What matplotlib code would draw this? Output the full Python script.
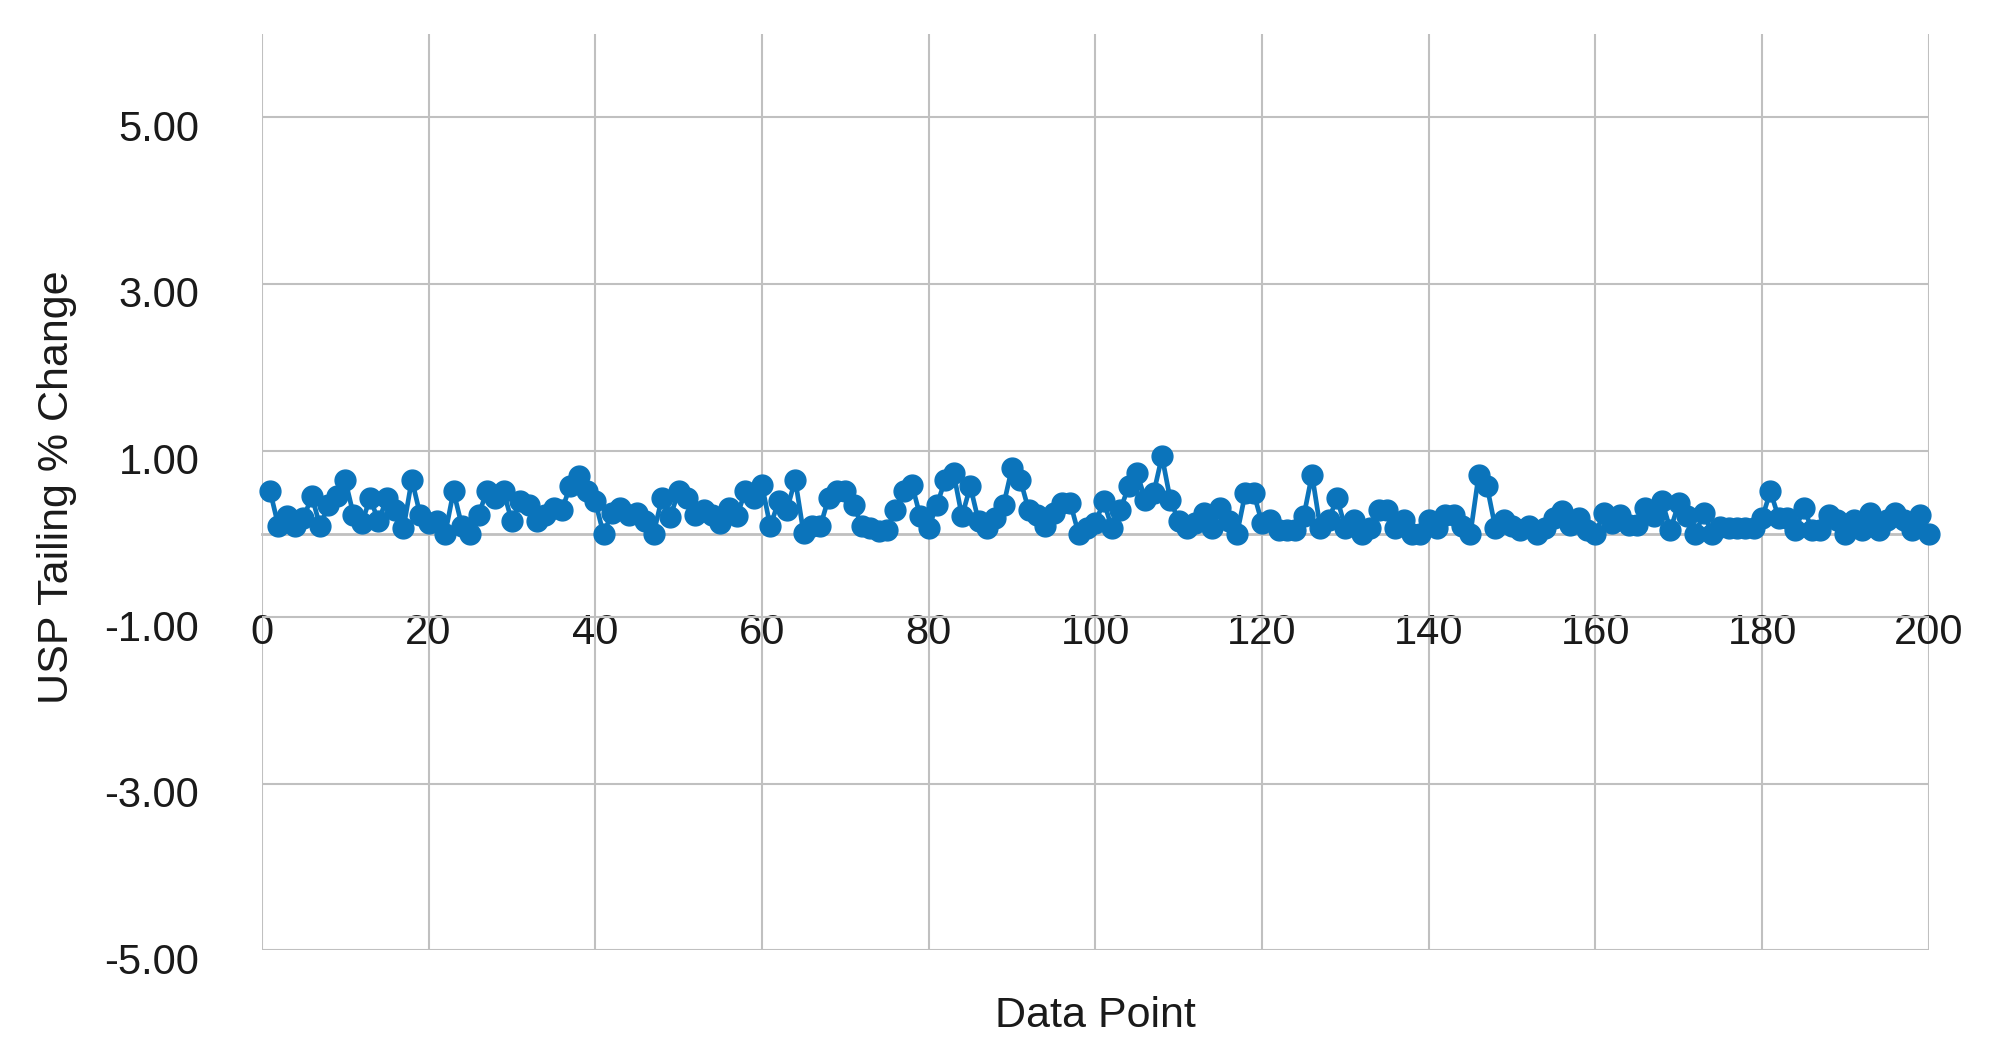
import matplotlib
matplotlib.use("Agg")
import matplotlib.pyplot as plt
import matplotlib.transforms as mtransforms
from matplotlib.ticker import FixedLocator, FormatStrFormatter

plt.rcParams['font.family'] = ['Liberation Sans', 'DejaVu Sans']

x_values = list(range(1, 201))
tailing_change = [
    0.51, 0.09, 0.21, 0.09, 0.19, 0.45, 0.09, 0.35, 0.45, 0.65,
    0.23, 0.13, 0.43, 0.15, 0.43, 0.29, 0.07, 0.65, 0.23, 0.13,
    0.15, 0.00, 0.51, 0.10, 0.00, 0.23, 0.51, 0.43, 0.51, 0.15,
    0.39, 0.35, 0.15, 0.23, 0.31, 0.29, 0.57, 0.69, 0.51, 0.39,
    0.00, 0.25, 0.31, 0.23, 0.25, 0.15, 0.00, 0.43, 0.20, 0.51,
    0.43, 0.23, 0.29, 0.23, 0.13, 0.31, 0.21, 0.51, 0.43, 0.59,
    0.09, 0.39, 0.29, 0.65, 0.01, 0.09, 0.09, 0.43, 0.51, 0.51,
    0.35, 0.09, 0.07, 0.03, 0.05, 0.29, 0.51, 0.59, 0.21, 0.07,
    0.35, 0.65, 0.73, 0.21, 0.57, 0.15, 0.07, 0.19, 0.35, 0.79,
    0.65, 0.29, 0.23, 0.09, 0.25, 0.37, 0.37, 0.00, 0.07, 0.13,
    0.39, 0.07, 0.29, 0.57, 0.73, 0.41, 0.49, 0.93, 0.41, 0.15,
    0.07, 0.13, 0.25, 0.07, 0.31, 0.15, 0.00, 0.49, 0.49, 0.13,
    0.17, 0.05, 0.05, 0.05, 0.21, 0.71, 0.07, 0.17, 0.43, 0.07,
    0.17, 0.00, 0.07, 0.29, 0.29, 0.07, 0.17, 0.00, 0.00, 0.17,
    0.07, 0.23, 0.23, 0.09, 0.00, 0.71, 0.57, 0.07, 0.17, 0.10,
    0.05, 0.09, 0.00, 0.07, 0.19, 0.27, 0.11, 0.19, 0.05, 0.00,
    0.25, 0.13, 0.23, 0.11, 0.11, 0.31, 0.21, 0.39, 0.05, 0.37,
    0.21, 0.00, 0.25, 0.00, 0.08, 0.07, 0.07, 0.07, 0.07, 0.19,
    0.51, 0.19, 0.19, 0.05, 0.31, 0.05, 0.05, 0.23, 0.17, 0.00,
    0.17, 0.05, 0.25, 0.05, 0.17, 0.25, 0.17, 0.05, 0.23, 0.00,
]
x_ticks = list(range(0, 201, 20))
y_ticks = [-5, -3, -1, 1, 3, 5]
x_label = "Data Point"
y_label = "USP Tailing % Change"

grid_color = "#c0c0c0"
line_color = "#0b74bb"

fig = plt.figure(figsize=(20, 10.62), dpi=100)
ax = fig.add_axes([0.1309, 0.105, 0.8335, 0.863])

ax.set_xlim(0, 200)
ax.set_ylim(-5, 6)

ax.xaxis.set_major_locator(FixedLocator(x_ticks))
ax.yaxis.set_major_locator(FixedLocator(y_ticks))
ax.yaxis.set_major_formatter(FormatStrFormatter('%.2f'))

ax.grid(True, color=grid_color, linewidth=1.5, zorder=0)
ax.set_axisbelow(True)

for s in ['top', 'right', 'left']:
    ax.spines[s].set_visible(False)
ax.spines['bottom'].set_position(('data', 0))
ax.spines['bottom'].set_color(grid_color)
ax.spines['bottom'].set_linewidth(2.0)
ax.spines['bottom'].set_zorder(1)

ax.tick_params(axis='x', length=0, pad=57, labelsize=30, labelcolor='#1a1a1a')
ax.tick_params(axis='y', length=0, pad=45, labelsize=30, labelcolor='#1a1a1a')

offset = mtransforms.ScaledTranslation(0, -8 / 100, fig.dpi_scale_trans)
for lbl in ax.get_yticklabels():
    lbl.set_transform(lbl.get_transform() + offset)

ax.plot(x_values, tailing_change, color=line_color, linewidth=3.4,
        marker='o', markersize=15, markerfacecolor=line_color,
        markeredgecolor=line_color, clip_on=False, zorder=3)

ax.set_xlabel(x_label, fontsize=31, color='#1a1a1a')
ax.xaxis.set_label_coords(0.5, -0.05)
ax.set_ylabel(y_label, fontsize=31, color='#1a1a1a')
ax.yaxis.set_label_coords(-0.111, 0.505)

fig.savefig("out.png", dpi=100, facecolor='white')
